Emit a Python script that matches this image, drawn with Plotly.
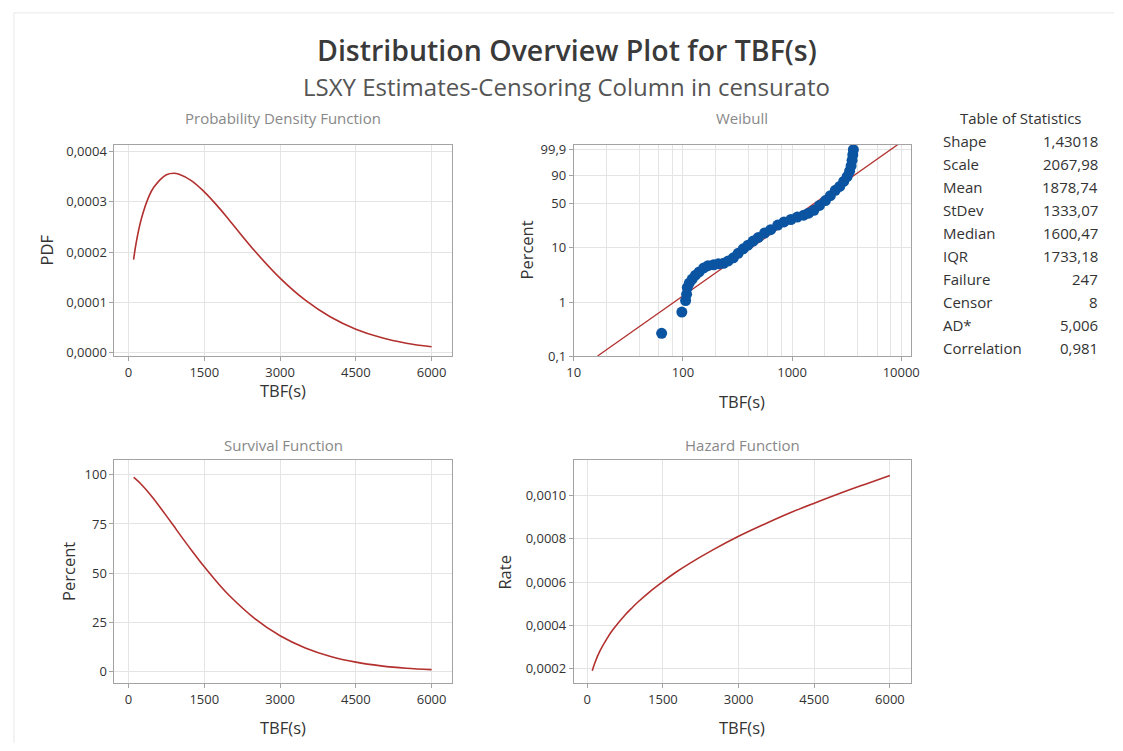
import numpy as np
import plotly.graph_objects as go

W, H = 1123, 751
FONT = "Open Sans"

# ---- Fitted Weibull parameters (from Table of Statistics) ----
shape = 1.43018
scale = 2067.98

stat_labels = ["Shape", "Scale", "Mean", "StDev", "Median", "IQR",
               "Failure", "Censor", "AD*", "Correlation"]
stat_values = ["1,43018", "2067,98", "1878,74", "1333,07", "1600,47",
               "1733,18", "247", "8", "5,006", "0,981"]

# ---- Curve values read from the PDF / Survival / Hazard panels ----
tbf = [100, 150, 250, 400, 500, 750, 900, 1000, 1250, 1500, 1750, 2000,
       2500, 3000, 3500, 4000, 4500, 5000, 5500, 6000]
pdf = [0.000185, 0.000218, 0.000265, 0.000310, 0.000329, 0.000354, 0.000357,
       0.000355, 0.000342, 0.000320, 0.000293, 0.000263, 0.000202, 0.000148,
       0.000104, 0.0000704, 0.0000462, 0.0000295, 0.0000183, 0.0000111]
survival = [98.7, 97.7, 95.2, 90.9, 87.7, 79.1, 73.8, 70.2, 61.5, 53.2, 45.5,
            38.5, 26.9, 18.2, 12.0, 7.7, 4.8, 2.9, 1.7, 1.0]
hazard = [0.000188, 0.000224, 0.000279, 0.000341, 0.000376, 0.000447, 0.000483,
          0.000506, 0.000557, 0.000602, 0.000644, 0.000682, 0.000750, 0.000812,
          0.000867, 0.000919, 0.000966, 0.001011, 0.001053, 0.001094]

# ---- Weibull probability plot points ----
weib_tbf = [63.8, 97.7, 105.8, 108.0, 109.6, 114.3, 121.6, 130.3, 140.7, 155.1,
            169.7, 191.1, 211.2, 235.3, 260.0, 289.7, 320.2, 356.8, 394.3, 439.4,
            490.8, 559.4, 636.6, 739.3, 843.1, 975.4, 1116.6, 1278.7, 1418.7,
            1584.1, 1783.7, 2021, 2243, 2489, 2733, 2971, 3195, 3366, 3474,
            3546, 3599, 3644]
weib_pct = [0.264, 0.657, 1.07, 1.40, 1.86, 2.25, 2.67, 3.14, 3.61, 4.27, 4.68,
            4.87, 5.07, 5.17, 5.71, 6.51, 7.83, 9.40, 10.9, 12.84, 14.86, 17.63,
            20.09, 23.94, 26.84, 29.30, 31.92, 34.15, 36.49, 40.21, 46.88, 54.14,
            61.78, 70.22, 76.14, 82.93, 88.70, 93.54, 96.87, 98.75, 99.61, 99.9]

wb_tick_pct = [0.1, 1, 10, 50, 90, 99.9]
wb_tick_txt = ["0,1", "1", "10", "50", "90", "99,9"]
lin_ticks = [0, 1500, 3000, 4500, 6000]
lin_tick_txt = ["0", "1500", "3000", "4500", "6000"]


def wscale(p):
    p = np.asarray(p, dtype=float) / 100.0
    return np.log(-np.log(1.0 - p))


def px(x):
    return x / W


def py(y):
    return 1 - y / H


LINE = "#B2302E"
BLUE = "#0A54A2"
AXC = "#a3a3a3"
GRID = "#e4e4e4"
TXT = "#333333"
TICK_SIZE = 13

fig = go.Figure()

fig.add_trace(go.Scatter(x=tbf, y=pdf, mode="lines", line=dict(color=LINE, width=1.6, shape="spline"),
                         xaxis="x", yaxis="y", showlegend=False))

# Weibull fitted line from shape/scale
w_line = np.linspace(wscale(0.1), 2.3, 50)
x_line = scale * np.exp(w_line / shape)
fig.add_trace(go.Scatter(x=x_line, y=w_line, mode="lines", line=dict(color=LINE, width=1.3),
                         xaxis="x2", yaxis="y2", showlegend=False))
fig.add_trace(go.Scatter(x=weib_tbf, y=wscale(weib_pct), mode="markers",
                         marker=dict(color=BLUE, size=11, line=dict(width=0)),
                         xaxis="x2", yaxis="y2", showlegend=False, cliponaxis=False))

fig.add_trace(go.Scatter(x=tbf, y=survival, mode="lines", line=dict(color=LINE, width=1.6, shape="spline"),
                         xaxis="x3", yaxis="y3", showlegend=False))
fig.add_trace(go.Scatter(x=tbf, y=hazard, mode="lines", line=dict(color=LINE, width=1.6, shape="spline"),
                         xaxis="x4", yaxis="y4", showlegend=False))


def ax(**kw):
    d = dict(showline=True, linecolor=AXC, linewidth=1, mirror=True, showgrid=True,
             gridcolor=GRID, gridwidth=1, zeroline=False, ticks="outside", ticklen=4,
             tickcolor=AXC, tickfont=dict(family=FONT, size=TICK_SIZE, color=TXT), fixedrange=True)
    d.update(kw)
    return d


top_dom = [py(358), py(143)]
bot_dom = [py(690), py(463)]
left_dom = [px(109), px(451)]
right_dom = [px(575), px(917)]

minor_vals = [20, 40, 60, 80, 200, 400, 600, 800, 2000, 4000, 6000, 8000]

fig.update_layout(
    width=W, height=H,
    margin=dict(l=0, r=0, t=0, b=0),
    paper_bgcolor="white", plot_bgcolor="white",
    font=dict(family=FONT, color=TXT),
    hovermode=False,
    xaxis=ax(domain=left_dom, range=[-279, 6396], tickvals=lin_ticks, ticktext=lin_tick_txt, anchor="y"),
    yaxis=ax(domain=top_dom, range=[-0.0000078, 0.000414],
             tickvals=[0, 0.0001, 0.0002, 0.0003, 0.0004],
             ticktext=["0,0000", "0,0001", "0,0002", "0,0003", "0,0004"], anchor="x"),
    xaxis2=ax(domain=right_dom, type="log", range=[1.0, 4.089],
              tickvals=[10, 100, 1000, 10000], ticktext=["10", "100", "1000", "10000"],
              minor=dict(tickmode="array", tickvals=minor_vals, showgrid=True, gridcolor=GRID, ticks=""),
              anchor="y2"),
    yaxis2=ax(domain=top_dom, range=[float(wscale(0.1)) - 0.01, 2.144],
              tickvals=list(wscale(wb_tick_pct)), ticktext=wb_tick_txt, anchor="x2"),
    xaxis3=ax(domain=left_dom, range=[-279, 6396], tickvals=lin_ticks, ticktext=lin_tick_txt, anchor="y3"),
    yaxis3=ax(domain=bot_dom, range=[-5.8, 107.7], tickvals=[0, 25, 50, 75, 100],
              ticktext=["0", "25", "50", "75", "100"], anchor="x3"),
    xaxis4=ax(domain=right_dom, range=[-266, 6417], tickvals=lin_ticks, ticktext=lin_tick_txt, anchor="y4"),
    yaxis4=ax(domain=bot_dom, range=[0.0001314, 0.001168],
              tickvals=[0.0002, 0.0004, 0.0006, 0.0008, 0.0010],
              ticktext=["0,0002", "0,0004", "0,0006", "0,0008", "0,0010"], anchor="x4"),
)

anns = []


def ann(text, x, y, size, color=TXT, xanchor="center", yanchor="middle", angle=0, weight=None):
    f = dict(family=FONT, size=size, color=color)
    if weight:
        f["weight"] = weight
    anns.append(dict(text=text, x=px(x), y=py(y), xref="paper", yref="paper", showarrow=False,
                     xanchor=xanchor, yanchor=yanchor, textangle=angle, font=f))


ann("Distribution Overview Plot for TBF(s)", 568, 47, 28.5, "#3a3a3a", weight=600)
ann("LSXY Estimates-Censoring Column in censurato", 568, 84, 24, "#555555")

PT = 15
ann("Probability Density Function", 280, 116, PT, "#888888")
ann("Weibull", 746, 116, PT, "#888888")
ann("Survival Function", 280, 448, PT, "#888888")
ann("Hazard Function", 746, 448, PT, "#888888")

AT = 16.5
ann("TBF(s)", 280, 393, AT)
ann("TBF(s)", 746, 404, AT)
ann("TBF(s)", 280, 735, AT)
ann("TBF(s)", 746, 735, AT)
ann("PDF", 40, 250, AT, angle=-90)
ann("Percent", 526, 250, AT, angle=-90)
ann("Percent", 63, 577, AT, angle=-90)
ann("Rate", 505, 577, AT, angle=-90)

TS = 15
ann("Table of Statistics", 1029, 116, TS)
for i, (lab, val) in enumerate(zip(stat_labels, stat_values)):
    yy = 139 + i * 23.4
    ann(lab, 948, yy, TS, xanchor="left")
    ann(val, 1109, yy, TS, xanchor="right")

fig.update_layout(annotations=anns)

fig.update_layout(shapes=[
    dict(type="line", xref="paper", yref="paper", x0=px(7), x1=1, y0=py(9), y1=py(9),
         line=dict(color="#e8e8e8", width=1)),
    dict(type="line", xref="paper", yref="paper", x0=px(7), x1=px(7), y0=py(9), y1=0,
         line=dict(color="#e8e8e8", width=1)),
])

fig.write_html("out.html", config={"displayModeBar": False},
               post_script="document.body.style.margin='0';")
